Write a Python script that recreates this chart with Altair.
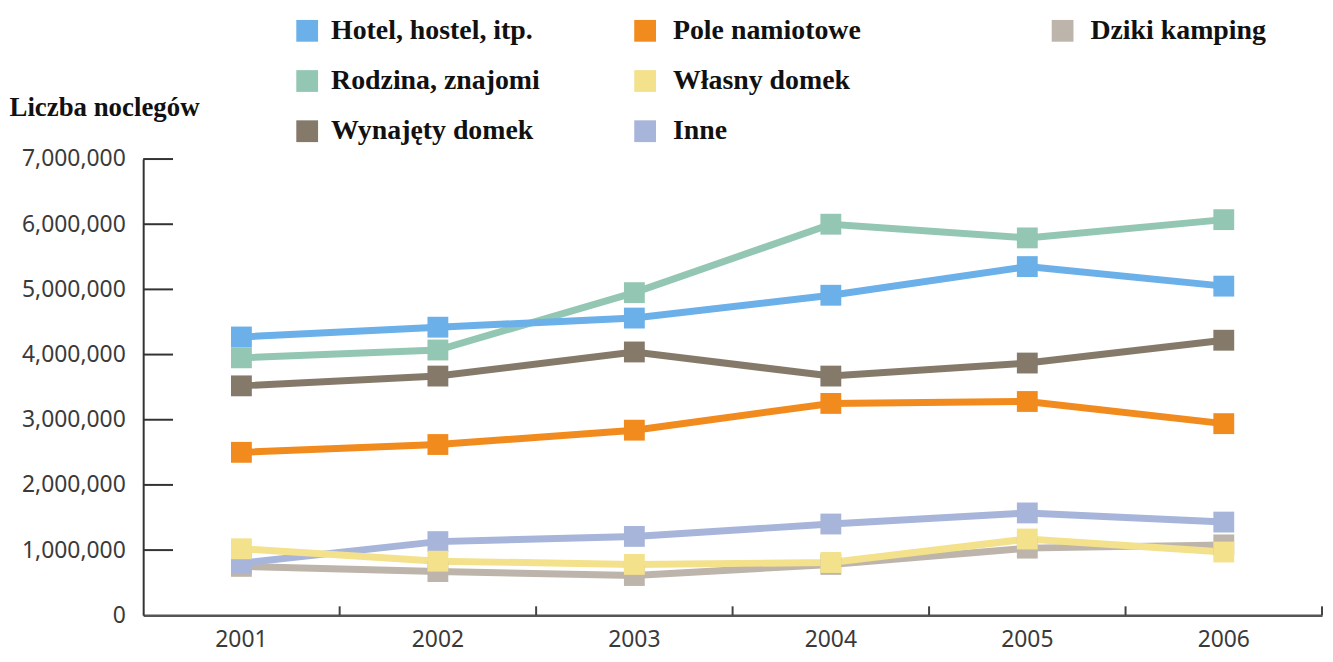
import altair as alt
import pandas as pd

# ---- data ----
years = ["2001", "2002", "2003", "2004", "2005", "2006"]
series_names = ["Hotel, hostel, itp.", "Rodzina, znajomi", "Wynajęty domek",
                "Pole namiotowe", "Własny domek", "Inne", "Dziki kamping"]
series_colors = ["#6BB0E8", "#93C7B3", "#857A6A", "#F28B1E", "#F3E18C", "#A7B5DA", "#BDB5AB"]

hotel    = [4270000, 4420000, 4560000, 4910000, 5350000, 5050000]
rodzina  = [3950000, 4070000, 4950000, 6000000, 5790000, 6070000]
wynajety = [3520000, 3670000, 4040000, 3670000, 3870000, 4220000]
pole     = [2500000, 2620000, 2840000, 3250000, 3280000, 2940000]
wlasny   = [1020000,  830000,  780000,  810000, 1170000,  970000]
inne     = [ 800000, 1130000, 1210000, 1400000, 1570000, 1430000]
dziki    = [ 750000,  670000,  610000,  780000, 1030000, 1080000]

y_ticks = [1000000, 2000000, 3000000, 4000000, 5000000, 6000000, 7000000]

# legend grid (column, row) for each series
legend_col = [0, 0, 0, 1, 1, 1, 2]
legend_row = [0, 1, 2, 0, 1, 2, 0]

# draw order: bottom -> top
draw_order = [
    ("Dziki kamping", dziki),
    ("Inne", inne),
    ("Własny domek", wlasny),
    ("Wynajęty domek", wynajety),
    ("Pole namiotowe", pole),
    ("Rodzina, znajomi", rodzina),
    ("Hotel, hostel, itp.", hotel),
]
rows = []
for name, vals in draw_order:
    for y, v in zip(years, vals):
        rows.append({"rok": y, "seria": name, "wartosc": v})
df = pd.DataFrame(rows)
df_years = pd.DataFrame({"rok": years})
df_ticks = pd.DataFrame({"v": y_ticks})
df_leg = pd.DataFrame({"seria": series_names, "col": legend_col, "row": legend_row})

W, H = 1186, 459
LABEL_FONT = "Noto Sans"
SERIF = "Liberation Serif"

color_scale = alt.Scale(domain=series_names, range=series_colors)

x_enc = alt.X(
    "rok:O",
    sort=years,
    scale=alt.Scale(type="band", paddingInner=0, paddingOuter=0),
    axis=alt.Axis(
        title=None, labelAngle=0, labelAlign="center", labelBaseline="top",
        ticks=False, labelPadding=13, bandPosition=0.5,
        labelFont=LABEL_FONT, labelFontSize=23, labelColor="#3a3a3a",
        domainColor="#555555", domainWidth=2.5,
    ),
)
y_enc = alt.Y(
    "wartosc:Q",
    scale=alt.Scale(domain=[0, 7000000], nice=False),
    axis=alt.Axis(
        values=[0] + y_ticks, format=",d", ticks=False, grid=False,
        labelPadding=18, labelFont=LABEL_FONT, labelFontSize=23, labelColor="#3a3a3a",
        domainColor="#333333", domainWidth=2,
        title="Liczba noclegów", titleAngle=0, titleAlign="left", titleBaseline="middle",
        titleX=-135, titleY=-52, titleFont=SERIF, titleFontSize=27, titleFontWeight="bold",
        titleColor="#111111",
    ),
)

lines = alt.Chart(df).mark_line(strokeWidth=7).encode(
    x=x_enc,
    y=y_enc,
    color=alt.Color("seria:N", scale=color_scale, legend=None, sort=None),
)
points = alt.Chart(df).mark_square(size=440, opacity=1).encode(
    x=alt.X("rok:O", sort=years),
    y=alt.Y("wartosc:Q"),
    color=alt.Color("seria:N", scale=color_scale, legend=None),
)
y_tick_rules = alt.Chart(df_ticks).mark_rule(color="#333333", strokeWidth=2).encode(
    y=alt.Y("v:Q"),
    x=alt.value(0),
    x2=alt.value(30),
)
x_tick_rules = alt.Chart(df_years).mark_rule(color="#444444", strokeWidth=2).encode(
    x=alt.X("rok:O", sort=years, bandPosition=1),
    y=alt.value(H - 9),
    y2=alt.value(H),
)

main = alt.layer(y_tick_rules, x_tick_rules, lines, points).properties(width=W, height=H)

# ---- legend (own chart above the plot) ----
leg_y = alt.Y("row:Q", scale=alt.Scale(domain=[0, 2], range=[21, 122]), axis=None)
leg_sq = alt.Chart(df_leg).mark_square(size=480, opacity=1).encode(
    x=alt.X("col:Q", scale=alt.Scale(domain=[0, 1, 2], range=[165, 505, 925]), axis=None),
    y=leg_y,
    color=alt.Color("seria:N", scale=color_scale, legend=None),
)
leg_txt = alt.Chart(df_leg).mark_text(
    align="left", baseline="middle", font=SERIF, fontSize=28,
    fontWeight="bold", color="#111111",
).encode(
    x=alt.X("col:Q", scale=alt.Scale(domain=[0, 1, 2], range=[189, 533, 953]), axis=None),
    y=leg_y,
    text="seria:N",
)
legend = alt.layer(leg_sq, leg_txt).resolve_scale(x="independent").properties(width=W, height=150)

chart = alt.vconcat(legend, main, spacing=0, bounds="flush").properties(
    padding={"left": 1, "top": 0, "right": 2, "bottom": 0},
    background="white",
).configure_view(stroke=None)

chart.save("out.html", embed_options={"renderer": "svg", "actions": False})
